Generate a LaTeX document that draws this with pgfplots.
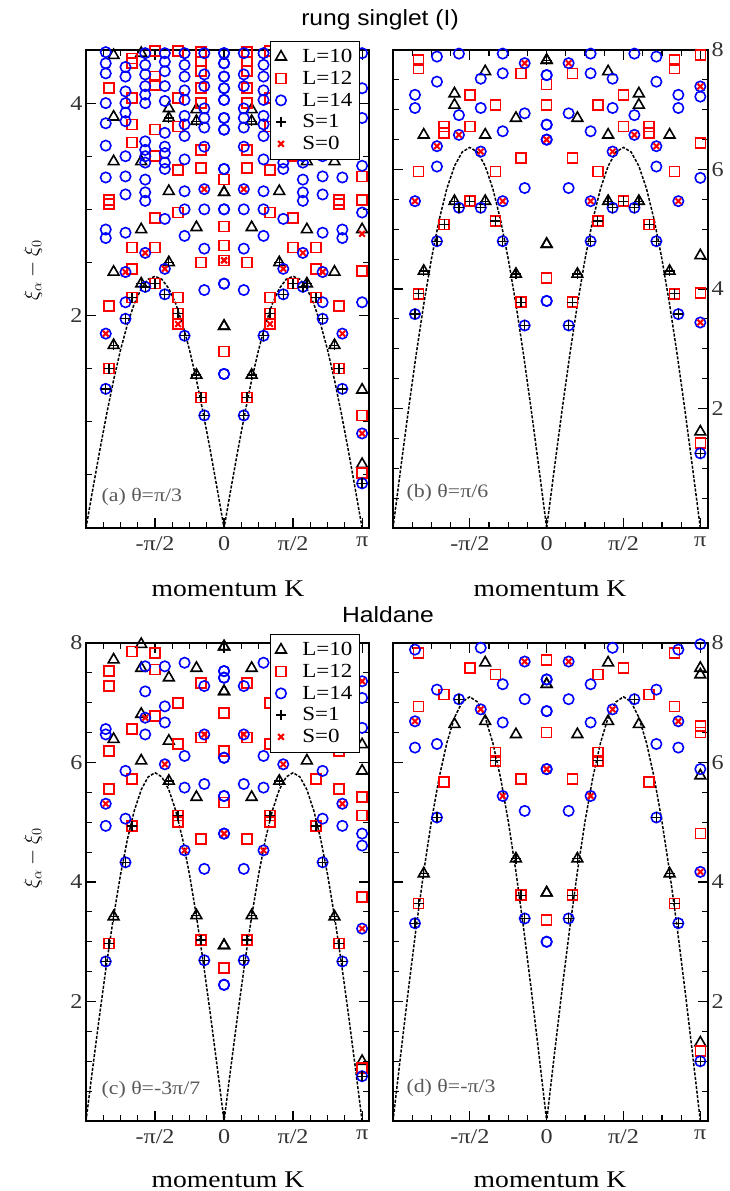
\documentclass[border=0pt]{standalone}
\usepackage{fontspec}
\setmainfont{Liberation Serif}[FakeStretch=1.15]
\newfontfamily\sansf{Liberation Sans}[FakeStretch=1.12]
\usepackage{pgfplots}
\usepackage{pgfplotstable}
\pgfplotsset{compat=1.18}

\pgfplotsset{
 panel/.style={
   scale only axis, height=478pt,
   xmin=-1, xmax=1.05, ymin=0,
   xtick={-0.5,0,0.5,1}, xticklabels={-π/2,0,π/2,π},
   minor xtick={-0.875,-0.75,-0.625,-0.375,-0.25,-0.125,0.125,0.25,0.375,0.625,0.75,0.875},
   tick align=inside,
   axis line style={line width=1.5pt},
   major tick length=10pt, minor tick length=6pt,
   every tick/.style={line width=1.2pt, black},
   tick label style={font=\fontsize{21}{24}\selectfont, text=black!80},
   xticklabel style={yshift=-5pt},
   /pgf/number format/assume math mode=true,
 },
 m10/.style={only marks, color=black, mark=triangle, mark size=6.2pt, mark options={line width=1.6pt, draw=black, fill=none, solid}, forget plot},
 m12/.style={only marks, color=red, mark=square, mark size=5pt, mark options={line width=1.6pt, draw=red, fill=none, solid}, forget plot},
 m14/.style={only marks, color=blue, mark=o, mark size=5.2pt, mark options={line width=1.6pt, draw=blue, fill=none, solid}, forget plot},
 ms1/.style={only marks, color=black, mark=+, mark size=5pt, mark options={line width=1.3pt, draw=black, solid}, forget plot},
 ms0/.style={only marks, color=red, mark=x, mark size=4pt, mark options={line width=2pt, draw=red, solid}, forget plot},
 disp/.style={black, line width=1.5pt, dash pattern=on 3pt off 1.6pt, forget plot, no marks},
 leg/.style={legend style={at={(rel axis cs:0.968,1.019)}, anchor=north east, draw=black, line width=1.1pt, fill=white, font=\fontsize{20}{20}\selectfont, row sep=3pt, inner xsep=5pt, inner ysep=6pt, cells={anchor=west}, /tikz/every odd column/.append style={column sep=14pt}}},
}
\newcommand{\mplot}[2]{\addplot[#1] table {#2};\addplot[#1] table[x expr=-\thisrow{x}] {#2};}
\newcommand{\legentries}{%
 \addlegendimage{only marks, color=black, mark=triangle, mark size=6.2pt, mark options={line width=1.6pt, draw=black, fill=none}}\addlegendentry{L=10}
 \addlegendimage{only marks, color=red, mark=square, mark size=5pt, mark options={line width=1.6pt, draw=red, fill=none}}\addlegendentry{L=12}
 \addlegendimage{only marks, color=blue, mark=o, mark size=5.2pt, mark options={line width=1.6pt, draw=blue}}\addlegendentry{L=14}
 \addlegendimage{only marks, color=black, mark=+, mark size=5pt, mark options={line width=1.8pt, draw=black}}\addlegendentry{S=1}
 \addlegendimage{only marks, color=red, mark=x, mark size=4pt, mark options={line width=2pt, draw=red}}\addlegendentry{S=0}
}

% ---------------- panel (a) ----------------
\pgfplotstableread{
x y
-0.8 4.45
-0.8 3.87
-0.8 3.45
-0.8 2.41
-0.8 1.72
-0.6 4.47
-0.6 3.45
-0.6 2.81
-0.6 2.3
-0.4 3.95
-0.4 3.86
-0.4 3.17
-0.4 2.5
-0.2 3.94
-0.2 3.83
-0.2 2.83
-0.2 1.44
0 3.16
0 1.9
}\aTen
\pgfplotstableread{
x y
-0.833 4.14
-0.833 3.09
-0.833 3.05
-0.833 2.09
-0.833 1.5
-0.667 4.42
-0.667 4.375
-0.667 4.05
-0.667 3.8
-0.667 3.63
-0.667 2.64
-0.667 2.44
-0.667 2.17
-0.5 4.49
-0.5 4.25
-0.5 4.17
-0.5 3.75
-0.5 3.5
-0.5 2.92
-0.5 2.64
-0.5 2.3
-0.333 4.49
-0.333 4.05
-0.333 3.78
-0.333 3.37
-0.333 2.97
-0.333 2.17
-0.333 2.02
-0.333 1.92
-0.167 4.48
-0.167 4.39
-0.167 4.30
-0.167 4.14
-0.167 4.0
-0.167 3.56
-0.167 3.39
-0.167 2.5
-0.167 1.23
0 3.28
0 2.84
0 2.66
0 2.52
0 1.66
}\aTwelve
\pgfplotstableread{
x y
-0.857 4.48
-0.857 4.375
-0.857 4.28
-0.857 4.0
-0.857 3.81
-0.857 3.60
-0.857 3.30
-0.857 2.81
-0.857 2.73
-0.857 1.83
-0.857 1.31
-0.714 4.34
-0.714 4.25
-0.714 4.11
-0.714 4.0
-0.714 3.91
-0.714 3.83
-0.714 3.5
-0.714 3.31
-0.714 3.14
-0.714 2.78
-0.714 2.41
-0.714 2.125
-0.714 1.97
-0.571 4.47
-0.571 4.36
-0.571 4.27
-0.571 4.16
-0.571 4.08
-0.571 4.0
-0.571 3.64
-0.571 3.56
-0.571 3.5
-0.571 3.44
-0.571 3.28
-0.571 3.16
-0.571 3.08
-0.571 2.59
-0.571 2.27
-0.429 4.47
-0.429 4.39
-0.429 4.30
-0.429 4.16
-0.429 4.02
-0.429 3.72
-0.429 3.59
-0.429 3.53
-0.429 3.44
-0.429 3.38
-0.429 2.91
-0.429 2.44
-0.429 2.2
-0.286 4.47
-0.286 4.36
-0.286 4.25
-0.286 4.12
-0.286 4.03
-0.286 3.88
-0.286 3.80
-0.286 3.69
-0.286 3.47
-0.286 3.17
-0.286 3.0
-0.286 2.75
-0.286 1.81
-0.143 4.47
-0.143 4.27
-0.143 4.16
-0.143 3.95
-0.143 3.86
-0.143 3.77
-0.143 3.59
-0.143 3.19
-0.143 3.0
-0.143 2.63
-0.143 2.24
-0.143 1.06
0 4.47
0 4.375
0 4.25
0 4.14
0 4.03
0 3.86
0 3.75
0 3.38
0 3.0
0 2.3
0 1.45
}\aFourteen
\pgfplotstableread{
x y
-0.857 1.31
-0.714 1.97
-0.571 2.27
-0.429 2.2
-0.286 1.81
-0.143 1.06
-0.833 1.5
-0.667 2.17
-0.5 2.3
-0.333 2.02
-0.167 1.23
-0.8 1.72
-0.6 2.3
-0.4 2.5
-0.2 1.44
-0.4 3.86
-0.2 3.83
}\aSone
\pgfplotstableread{
x y
-0.857 1.83
-0.714 2.41
-0.571 2.59
-0.429 2.44
-0.143 3.19
-0.333 1.92
0 2.52
}\aSzero
\pgfplotstableread{
x y
-1 0
-0.95 0.371
-0.9 0.732
-0.85 1.076
-0.8 1.393
-0.75 1.676
-0.7 1.917
-0.65 2.112
-0.6 2.254
-0.55 2.341
-0.5 2.37
-0.45 2.341
-0.4 2.254
-0.35 2.112
-0.3 1.917
-0.25 1.676
-0.2 1.393
-0.15 1.076
-0.1 0.732
-0.05 0.371
0 0
}\aCurve

% ---------------- panel (b) ----------------
\pgfplotstableread{
x y
-0.8 6.58
-0.8 4.30
-0.6 7.27
-0.6 7.08
-0.6 5.47
-0.4 7.64
-0.4 6.58
-0.4 5.47
-0.2 6.86
-0.2 4.25
0 7.83
0 4.75
}\bTen
\pgfplotstableread{
x y
-0.833 7.83
-0.833 7.69
-0.833 5.97
-0.833 3.92
-0.667 6.72
-0.667 6.61
-0.667 5.08
-0.5 7.25
-0.5 6.72
-0.5 5.47
-0.333 7.08
-0.333 5.97
-0.333 5.14
-0.167 7.61
-0.167 6.19
-0.167 3.78
0 7.42
0 7.08
0 4.18
}\bTwelve
\pgfplotstableread{
x y
-0.857 7.25
-0.857 7.03
-0.857 5.47
-0.857 3.58
-0.714 7.89
-0.714 7.47
-0.714 6.39
-0.714 6.05
-0.714 4.80
-0.571 7.94
-0.571 6.91
-0.571 6.58
-0.571 5.36
-0.429 7.52
-0.429 7.03
-0.429 6.30
-0.429 5.36
-0.286 7.94
-0.286 7.61
-0.286 6.64
-0.286 5.47
-0.286 4.80
-0.143 7.78
-0.143 6.94
-0.143 5.69
-0.143 3.39
0 7.58
0 6.75
0 6.5
0 3.8
}\bFourteen
\pgfplotstableread{
x y
-0.857 3.58
-0.714 4.80
-0.571 5.36
-0.429 5.36
-0.286 4.80
-0.143 3.39
-0.833 3.92
-0.667 5.08
-0.5 5.47
-0.333 5.14
-0.167 3.78
-0.8 4.30
-0.6 5.47
-0.4 5.47
-0.2 4.25
0 7.83
}\bSone
\pgfplotstableread{
x y
-0.857 5.47
-0.714 6.39
-0.571 6.58
-0.429 6.30
-0.286 5.47
-0.143 7.78
0 6.5
}\bSzero
\pgfplotstableread{
x y
-1 0
-0.95 0.996
-0.9 1.968
-0.85 2.892
-0.8 3.744
-0.75 4.504
-0.7 5.153
-0.65 5.676
-0.6 6.058
-0.55 6.292
-0.5 6.37
-0.45 6.292
-0.4 6.058
-0.35 5.676
-0.3 5.153
-0.25 4.504
-0.2 3.744
-0.15 2.892
-0.1 1.968
-0.05 0.996
0 0
}\bCurve

% ---------------- panel (c) ----------------
\pgfplotstableread{
x y
-0.8 7.72
-0.8 6.39
-0.8 3.42
-0.6 7.98
-0.6 7.58
-0.6 6.81
-0.6 6.03
-0.4 7.42
-0.4 6.36
-0.4 5.69
-0.2 7.58
-0.2 5.42
-0.2 3.44
0 7.94
0 7.19
0 2.94
}\cTen
\pgfplotstableread{
x y
-0.833 7.53
-0.833 7.28
-0.833 6.19
-0.833 5.56
-0.833 2.97
-0.667 7.86
-0.667 6.56
-0.667 5.72
-0.667 4.94
-0.5 7.83
-0.5 7.56
-0.5 6.78
-0.333 7.0
-0.333 6.31
-0.333 5.11
-0.333 5.0
-0.167 7.33
-0.167 6.42
-0.167 4.72
-0.167 3.03
0 6.83
0 6.19
0 5.33
0 2.56
}\cTwelve
\pgfplotstableread{
x y
-0.857 6.56
-0.857 6.47
-0.857 5.31
-0.857 4.94
-0.857 2.67
-0.714 5.86
-0.714 5.06
-0.714 4.33
-0.571 7.61
-0.571 7.19
-0.571 6.75
-0.571 6.47
-0.429 7.61
-0.429 6.94
-0.429 6.67
-0.429 5.97
-0.286 7.67
-0.286 6.11
-0.286 5.58
-0.286 4.53
-0.143 7.28
-0.143 6.47
-0.143 5.64
-0.143 4.22
-0.143 2.69
0 7.53
0 7.42
0 6.08
0 5.44
0 4.81
0 2.28
}\cFourteen
\pgfplotstableread{
x y
-0.857 2.67
-0.714 4.33
-0.143 2.69
-0.833 2.97
-0.667 4.94
-0.333 5.11
-0.167 3.03
-0.8 3.42
-0.4 5.69
-0.2 3.44
}\cSone
\pgfplotstableread{
x y
-0.857 5.31
-0.571 6.75
-0.429 5.97
-0.286 4.53
-0.143 6.47
0 4.81
}\cSzero
\pgfplotstableread{
x y
-1 0
-0.95 0.912
-0.9 1.801
-0.85 2.647
-0.8 3.427
-0.75 4.122
-0.7 4.716
-0.65 5.195
-0.6 5.545
-0.55 5.758
-0.5 5.83
-0.45 5.758
-0.4 5.545
-0.35 5.195
-0.3 4.716
-0.25 4.122
-0.2 3.427
-0.15 2.647
-0.1 1.801
-0.05 0.912
0 0
}\cCurve

% ---------------- panel (d) ----------------
\pgfplotstableread{
x y
-0.8 4.14
-0.6 6.64
-0.4 7.67
-0.4 6.69
-0.2 6.47
-0.2 4.39
0 7.31
0 3.82
}\dTen
\pgfplotstableread{
x y
-0.833 7.83
-0.833 6.94
-0.833 3.64
-0.667 7.14
-0.667 5.67
-0.5 7.58
-0.333 7.47
-0.333 6.17
-0.333 6.03
-0.167 5.72
-0.167 3.78
0 7.72
0 6.5
0 3.36
}\dTwelve
\pgfplotstableread{
x y
-0.857 7.89
-0.857 6.69
-0.857 6.25
-0.857 3.31
-0.714 7.22
-0.714 6.31
-0.714 5.08
-0.571 7.06
-0.429 7.92
-0.429 6.89
-0.286 7.31
-0.286 6.67
-0.286 5.44
-0.143 7.69
-0.143 7.06
-0.143 5.19
-0.143 3.39
0 7.39
0 6.86
0 5.89
0 3.0
}\dFourteen
\pgfplotstableread{
x y
-0.857 3.31
-0.714 5.08
-0.571 7.06
-0.143 3.39
-0.833 3.64
-0.167 3.78
-0.8 4.14
-0.2 4.39
-0.333 6.03
}\dSone
\pgfplotstableread{
x y
-0.857 6.69
-0.429 6.89
-0.286 5.44
-0.143 7.69
0 5.89
}\dSzero
\pgfplotstableread{
x y
-1 0
-0.95 1.110
-0.9 2.194
-0.85 3.223
-0.8 4.173
-0.75 5.020
-0.7 5.744
-0.65 6.326
-0.6 6.753
-0.55 7.013
-0.5 7.1
-0.45 7.013
-0.4 6.753
-0.35 6.326
-0.3 5.744
-0.25 5.020
-0.2 4.173
-0.15 3.223
-0.1 2.194
-0.05 1.110
0 0
}\dCurve

\begin{document}
\begin{tikzpicture}
% ===== (a) =====
\begin{axis}[panel, leg, width=283pt, ymax=4.5, ytick={2,4},
  minor ytick={0.5,1,1.5,2.5,3,3.5},
  at={(86pt,-528pt)}, anchor=south west]
\mplot{disp}{\aCurve}
\mplot{m10}{\aTen}
\addplot[m10] coordinates {(1,2.81) (1,1.3) (1,0.6)};
\mplot{m12}{\aTwelve}
\addplot[m12] coordinates {(1,3.31) (1,3.09) (1,2.42) (1,1.06) (1,0.52)};
\mplot{m14}{\aFourteen}
\addplot[m14] coordinates {(1,4.47) (1,4.14) (1,3.86) (1,3.41) (1,2.97) (1,2.125) (1,0.89) (1,0.42)};
\mplot{ms1}{\aSone}
\addplot[ms1] coordinates {(1,0.42)};
\mplot{ms0}{\aSzero}
\addplot[ms0] coordinates {(1,0.89) (1,2.77)};
\legentries
\end{axis}
% ===== (b) =====
\begin{axis}[panel, width=315pt, ymax=8, ytick={2,4,6,8}, yticklabel pos=right,
  minor ytick={0.5,1,1.5,2.5,3,3.5,4.5,5,5.5,6.5,7,7.5},
  at={(393pt,-528pt)}, anchor=south west]
\mplot{disp}{\bCurve}
\mplot{m10}{\bTen}
\addplot[m10] coordinates {(1,4.56) (1,1.61)};
\mplot{m12}{\bTwelve}
\addplot[m12] coordinates {(1,7.92) (1,6.44) (1,3.93) (1,1.42)};
\mplot{m14}{\bFourteen}
\addplot[m14] coordinates {(1,7.39) (1,7.22) (1,5.86) (1,3.44) (1,1.25)};
\mplot{ms1}{\bSone}
\addplot[ms1] coordinates {(1,1.25)};
\mplot{ms0}{\bSzero}
\addplot[ms0] coordinates {(1,7.39) (1,3.44)};
\end{axis}
% ===== (c) =====
\begin{axis}[panel, leg, width=283pt, ymax=8, ytick={2,4,6,8},
  minor ytick={0.5,1,1.5,2.5,3,3.5,4.5,5,5.5,6.5,7,7.5},
  at={(86pt,-1121pt)}, anchor=south west]
\mplot{disp}{\cCurve}
\mplot{m10}{\cTen}
\addplot[m10] coordinates {(1,6.3) (1,5.86) (1,1.0)};
\mplot{m12}{\cTwelve}
\addplot[m12] coordinates {(1,5.42) (1,5.11) (1,3.75) (1,0.89)};
\mplot{m14}{\cFourteen}
\addplot[m14] coordinates {(1,7.36) (1,7.08) (1,6.58) (1,4.81) (1,4.61) (1,3.22) (1,0.75)};
\mplot{ms1}{\cSone}
\addplot[ms1] coordinates {(1,0.75)};
\mplot{ms0}{\cSzero}
\addplot[ms0] coordinates {(1,7.36) (1,3.22)};
\legentries
\end{axis}
% ===== (d) =====
\begin{axis}[panel, width=315pt, ymax=8, ytick={2,4,6,8}, yticklabel pos=right,
  minor ytick={0.5,1,1.5,2.5,3,3.5,4.5,5,5.5,6.5,7,7.5},
  at={(393pt,-1121pt)}, anchor=south west]
\mplot{disp}{\dCurve}
\mplot{m10}{\dTen}
\addplot[m10] coordinates {(1,7.58) (1,7.47) (1,5.78) (1,1.31)};
\mplot{m12}{\dTwelve}
\addplot[m12] coordinates {(1,6.61) (1,6.5) (1,4.81) (1,1.17)};
\mplot{m14}{\dFourteen}
\addplot[m14] coordinates {(1,7.98) (1,5.89) (1,4.17) (1,1.0)};
\mplot{ms1}{\dSone}
\addplot[ms1] coordinates {(1,1.0)};
\mplot{ms0}{\dSzero}
\addplot[ms0] coordinates {(1,4.17)};
\end{axis}
% ===== texts =====
\node[font=\sansf\fontsize{22}{24}\selectfont] at (380pt,-20pt) {rung singlet (I)};
\node[font=\sansf\fontsize{22}{24}\selectfont] at (388pt,-615pt) {Haldane};
\node[font=\fontsize{24}{25}\selectfont] at (228pt,-589pt) {momentum K};
\node[font=\fontsize{24}{25}\selectfont] at (550pt,-589pt) {momentum K};
\node[font=\fontsize{24}{25}\selectfont] at (228pt,-1180pt) {momentum K};
\node[font=\fontsize{24}{25}\selectfont] at (550pt,-1180pt) {momentum K};
\node[font=\fontsize{19}{20}\selectfont, text=black!65, anchor=west] at (98pt,-497pt) {(a) θ=π/3};
\node[font=\fontsize{19}{20}\selectfont, text=black!65, anchor=west] at (403pt,-493pt) {(b) θ=π/6};
\node[font=\fontsize{19}{20}\selectfont, text=black!65, anchor=west] at (98pt,-1090pt) {(c) θ=-3π/7};
\node[font=\fontsize{19}{20}\selectfont, text=black!65, anchor=west] at (403pt,-1088pt) {(d) θ=-π/3};
\node[rotate=90, font=\fontsize{20}{20}\selectfont] at (33pt,-270pt) {$\xi_\alpha-\xi_0$};
\node[rotate=90, font=\fontsize{20}{20}\selectfont] at (33pt,-858pt) {$\xi_\alpha-\xi_0$};
\pgfresetboundingbox
\path[use as bounding box] (0pt,0pt) rectangle (729pt,-1191pt);
\end{tikzpicture}
\end{document}
